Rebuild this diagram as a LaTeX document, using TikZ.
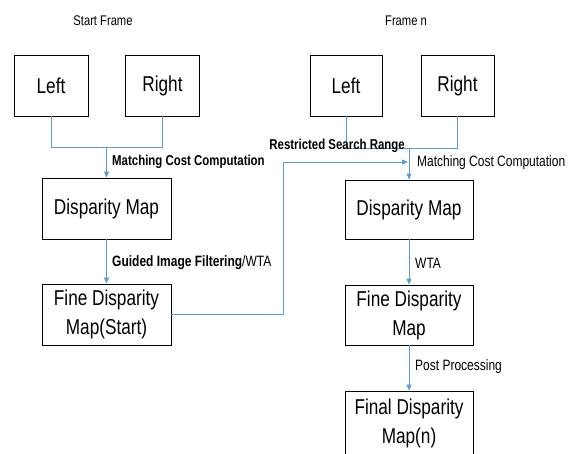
\documentclass[tikz,border=0pt]{standalone}
\usepackage{fontspec}
\setmainfont{Liberation Sans}[FakeStretch=0.8]
\usetikzlibrary{arrows.meta}
\definecolor{linkblue}{RGB}{91,155,213}
\begin{document}
\begin{tikzpicture}[x=1pt, y=-1pt,
		box/.style={draw=black, line width=0.9pt, align=center, inner sep=0pt, font=\fontsize{21.5}{29}\selectfont},
		wire/.style={draw=linkblue, line width=1pt},
		flow/.style={wire, -{Triangle[length=6pt,width=5pt]}},
		lab/.style={anchor=west, inner sep=0pt, font=\fontsize{15}{18}\selectfont},
		boldlab/.style={lab, font=\bfseries\fontsize{14.3}{18}\selectfont},
		title/.style={inner sep=0pt, font=\fontsize{14}{17}\selectfont}]
		\useasboundingbox (0,0) rectangle (569,453);
		\clip (0,0) rectangle (569,453);
		\node[title] (t1) at (103,21) {Start Frame};
		\node[title] (t2) at (406,21) {Frame n};
		\node[box, minimum width=74, minimum height=61] (L1) at (51,85.5) {Left};
		\node[box, minimum width=74, minimum height=61] (R1) at (162.5,85.5) {Right};
		\node[box, minimum width=129, minimum height=61] (D1) at (106.5,208.5) {Disparity Map};
		\node[box, minimum width=129, minimum height=61] (F1) at (106.5,314.5) {Fine Disparity\\Map(Start)};
		\node[box, minimum width=72, minimum height=61] (L2) at (346,85.5) {Left};
		\node[box, minimum width=73, minimum height=61] (R2) at (457.5,85.5) {Right};
		\node[box, minimum width=128, minimum height=59] (D2) at (409,209.5) {Disparity Map};
		\node[box, minimum width=128, minimum height=60] (F2) at (409,315) {Fine Disparity\\Map};
		\node[box, minimum width=128, minimum height=64] (P2) at (409,423) {Final Disparity\\Map(n)};
		\draw[wire] (L1.south) -- ++(0,31) coordinate (j1) -| (R1.south);
		\coordinate (m1) at (j1 -| D1.north);
		\draw[flow] (m1) -- (D1.north);
		\node[boldlab] (c1) at (112,162) {Matching Cost Computation};
		\draw[flow] (D1.south) -- (F1.north);
		\node[lab] (g1) at (112,263) {{\bfseries Guided Image Filtering}/WTA};
		\draw[wire] (L2.south) -- ++(0,32) coordinate (j2) -| (R2.south);
		\coordinate (m2) at (j2 -| D2.north);
		\draw[flow] (m2) -- (D2.north);
		\node[lab] (c2) at (417,163) {Matching Cost Computation};
		\node[boldlab, anchor=east] (r2) at (405,146) {Restricted Search Range};
		\coordinate (m3) at (408,162);
		\draw[flow] (F1.east) -- ++(112,0) |- (m3);
		\draw[flow] (D2.south) -- (F2.north);
		\node[lab] (w2) at (415,263) {WTA};
		\draw[flow] (F2.south) -- (P2.north);
		\node[lab] (p2) at (415,367) {Post Processing};
	\end{tikzpicture}
\end{document}
